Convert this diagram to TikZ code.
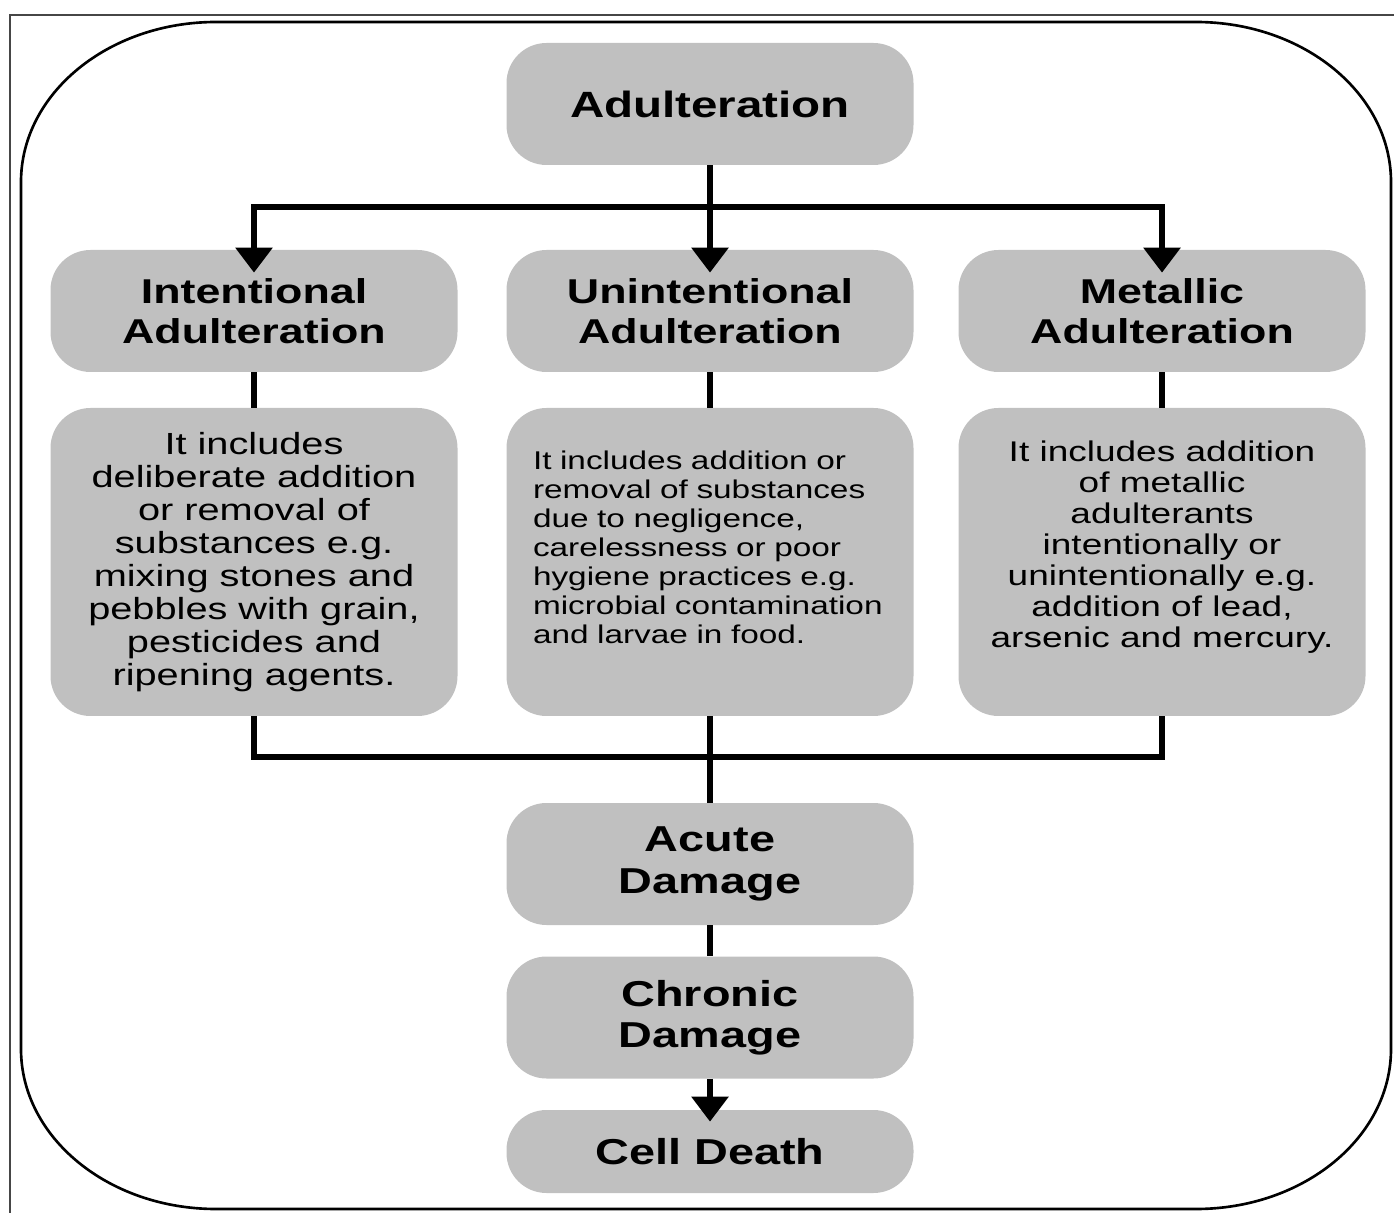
\documentclass[tikz,border=0pt]{standalone}
\usepackage{fontspec}
\setmainfont{Liberation Sans}[FakeStretch=1.3]
\usepackage{tikz}
\usetikzlibrary{arrows.meta}
\usepackage{color}

\definecolor{boxgray}{RGB}{192,192,192}
\definecolor{framegray}{RGB}{70,70,70}

\tikzset{
  box/.style={rounded corners=0.8cm, fill=boxgray, inner sep=0pt,
    minimum width=8.14cm, minimum height=2.44cm, align=center,
    font=\fontsize{19.6}{22.8}\selectfont\bfseries},
  damagebox/.style={box, font=\fontsize{20.5}{23.5}\selectfont\bfseries},
  descbox/.style={rounded corners=0.8cm, fill=boxgray, inner sep=0pt,
    minimum width=8.14cm, minimum height=6.16cm},
  link/.style={line width=0.12cm},
  arr/.style={link, -{Triangle[width=0.72cm,length=0.5cm]}}
}

\begin{document}
\begin{tikzpicture}
  \useasboundingbox (0,0) rectangle (27.88,-24.26);
  % Sizes
  \pgfmathsetmacro{\lft}{0.42}
  \pgfmathsetmacro{\rgt}{27.82}
  \pgfmathsetmacro{\tp}{-0.44}
  \pgfmathsetmacro{\bt}{-24.18}

  % frame
  \draw[framegray, line width=0.6pt] (0.2,-0.3) rectangle (28.0,-24.4);
  \draw[line width=1.5pt]
    (\lft,\tp-3.2) arc[start angle=180, end angle=90, x radius=3.9, y radius=3.2]
    -- (\rgt-3.9,\tp) arc[start angle=90, end angle=0, x radius=3.9, y radius=3.2]
    -- (\rgt,\bt+3.2) arc[start angle=0, end angle=-90, x radius=3.9, y radius=3.2]
    -- (\lft+3.9,\bt) arc[start angle=270, end angle=180, x radius=3.9, y radius=3.2]
    -- cycle;

  % boxes
  \node[box, font=\fontsize{20.8}{24}\selectfont\bfseries] (adult) at (14.2,-2.08) {Adulteration};
  \node[box] (intent) at (5.08,-6.22) {Intentional\\Adulteration};
  \node[box] (unint) at (14.2,-6.22) {Unintentional\\Adulteration};
  \node[box] (metal) at (23.24,-6.22) {Metallic\\Adulteration};

  \node[descbox] (descI) at (5.08,-11.24) {};
  \node[descbox] (descU) at (14.2,-11.24) {};
  \node[descbox] (descM) at (23.24,-11.24) {};

  \node[damagebox] (acute) at (14.2,-17.28) {Acute\\Damage};
  \node[damagebox] (chronic) at (14.2,-20.35) {Chronic\\Damage};
  \node[damagebox, minimum height=1.66cm] (cell) at (14.2,-23.03) {Cell Death};

  % texts
  \node[align=center, inner sep=0pt, font=\fontsize{17.4}{18.8}\selectfont] (txtI) at (descI.center)
    {It includes\\deliberate addition\\or removal of\\substances e.g.\\mixing stones and\\pebbles with grain,\\pesticides and\\ripening agents.};
  \node[align=left, text width=7.08cm, inner sep=0pt, font=\fontsize{14.6}{16.5}\selectfont] (txtU) at ([yshift=0.29cm]descU.center)
    {It includes addition or\\removal of substances\\due to negligence,\\carelessness or poor\\hygiene practices e.g.\\microbial contamination\\and larvae in food.};
  \node[align=center, inner sep=0pt, font=\fontsize{16.2}{17.6}\selectfont] (txtM) at ([yshift=0.3cm]descM.center)
    {It includes addition\\of metallic\\adulterants\\intentionally or\\unintentionally e.g.\\addition of lead,\\arsenic and mercury.};

  % connectors
  \coordinate (split) at (14.2,-4.14);
  \coordinate (merge) at (14.2,-15.14);
  \draw[link] (adult.south) -- (split);
  \draw[arr, shorten >=-0.46cm] (split) -| (intent.north);
  \draw[arr, shorten >=-0.46cm] (split) -| (metal.north);
  \draw[arr, shorten >=-0.46cm] (split) -- (unint.north);

  \draw[link] (intent.south) -- (descI.north);
  \draw[link] (unint.south) -- (descU.north);
  \draw[link] (metal.south) -- (descM.north);

  \draw[link] (descI.south) |- (merge) -| (descM.south);
  \draw[link] (descU.south) -- (acute.north);
  \draw[link] (acute.south) -- (chronic.north);
  \draw[arr, shorten >=-0.24cm] (chronic.south) -- (cell.north);
\end{tikzpicture}
\end{document}
